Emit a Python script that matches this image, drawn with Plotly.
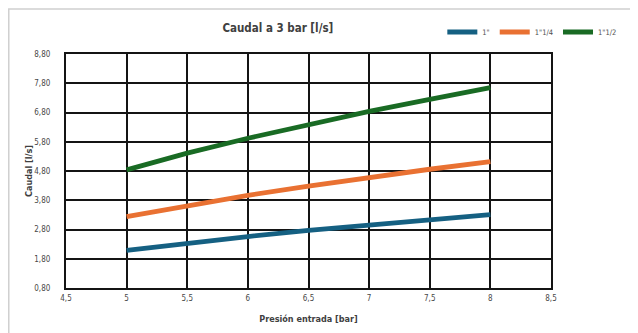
import plotly.graph_objects as go

presion = [5, 5.5, 6, 6.5, 7, 7.5, 8]
serie_1 = [2.09, 2.34, 2.56, 2.77, 2.96, 3.14, 3.31]
serie_1_1_4 = [3.24, 3.62, 3.97, 4.28, 4.58, 4.86, 5.12]
serie_1_1_2 = [4.84, 5.41, 5.92, 6.40, 6.84, 7.25, 7.65]
names = ['1"', '1"1/4', '1"1/2']
colors = ["#156082", "#E97132", "#196B24"]

x_tickvals = [4.5, 5, 5.5, 6, 6.5, 7, 7.5, 8, 8.5]
x_ticktext = ["4,5", "5", "5,5", "6", "6,5", "7", "7,5", "8", "8,5"]
y_tickvals = [0.8, 1.8, 2.8, 3.8, 4.8, 5.8, 6.8, 7.8, 8.8]
y_ticktext = ["0,80", "1,80", "2,80", "3,80", "4,80", "5,80", "6,80", "7,80", "8,80"]

FONT = "DejaVu Sans Condensed, Liberation Sans Narrow, Roboto, Arial"

fig = go.Figure()
for name, ys, c in zip(names, [serie_1, serie_1_1_4, serie_1_1_2], colors):
    fig.add_trace(go.Scatter(x=presion, y=ys, mode="lines", name=name,
                             line=dict(color=c, width=4.8)))

fig.update_layout(
    width=638, height=333,
    margin=dict(l=58, r=95, t=46, b=53, autoexpand=False),
    paper_bgcolor="white", plot_bgcolor="white",
    font=dict(family=FONT, color="#484848", size=9),
    title=dict(text="<b>Caudal a 3 bar [l/s]</b>", x=0.423, xanchor="center", y=0.94, yanchor="middle",
               font=dict(family=FONT, size=11.5, color="#404040")),
    legend=dict(orientation="h", x=1.145, xanchor="right", y=1.094, yanchor="middle",
                font=dict(size=7.5, color="#505050"), bgcolor="rgba(0,0,0,0)",
                itemwidth=30, tracegroupgap=0),
    showlegend=True,
)
fig.update_xaxes(range=[4.5, 8.5], tickvals=x_tickvals, ticktext=x_ticktext,
                 showgrid=True, gridcolor="#141414", gridwidth=2.2,
                 showline=True, linecolor="#141414", linewidth=2.2, mirror=True,
                 zeroline=False, ticks="", tickfont=dict(size=8), automargin=False,
                 ticklabelstandoff=1,
                 title=dict(text="<b>Presión entrada [bar]</b>", font=dict(size=9, color="#404040"), standoff=14))
fig.update_yaxes(range=[0.8, 8.8], tickvals=y_tickvals, ticktext=y_ticktext,
                 showgrid=True, gridcolor="#141414", gridwidth=2.2,
                 showline=True, linecolor="#141414", linewidth=2.2, mirror=True,
                 zeroline=False, ticks="", tickfont=dict(size=8), automargin=False,
                 ticklabelstandoff=12,
                 title=dict(text="<b>Caudal [l/s]</b>", font=dict(size=9, color="#404040"), standoff=0))

# outer chart border
fig.add_shape(type="rect", xref="paper", yref="paper", x0=-0.118, x1=1.18, y0=-0.3, y1=1.192,
              line=dict(color="#d0d0d0", width=1.5), fillcolor="rgba(0,0,0,0)", layer="below")

fig.write_html("out.html")
